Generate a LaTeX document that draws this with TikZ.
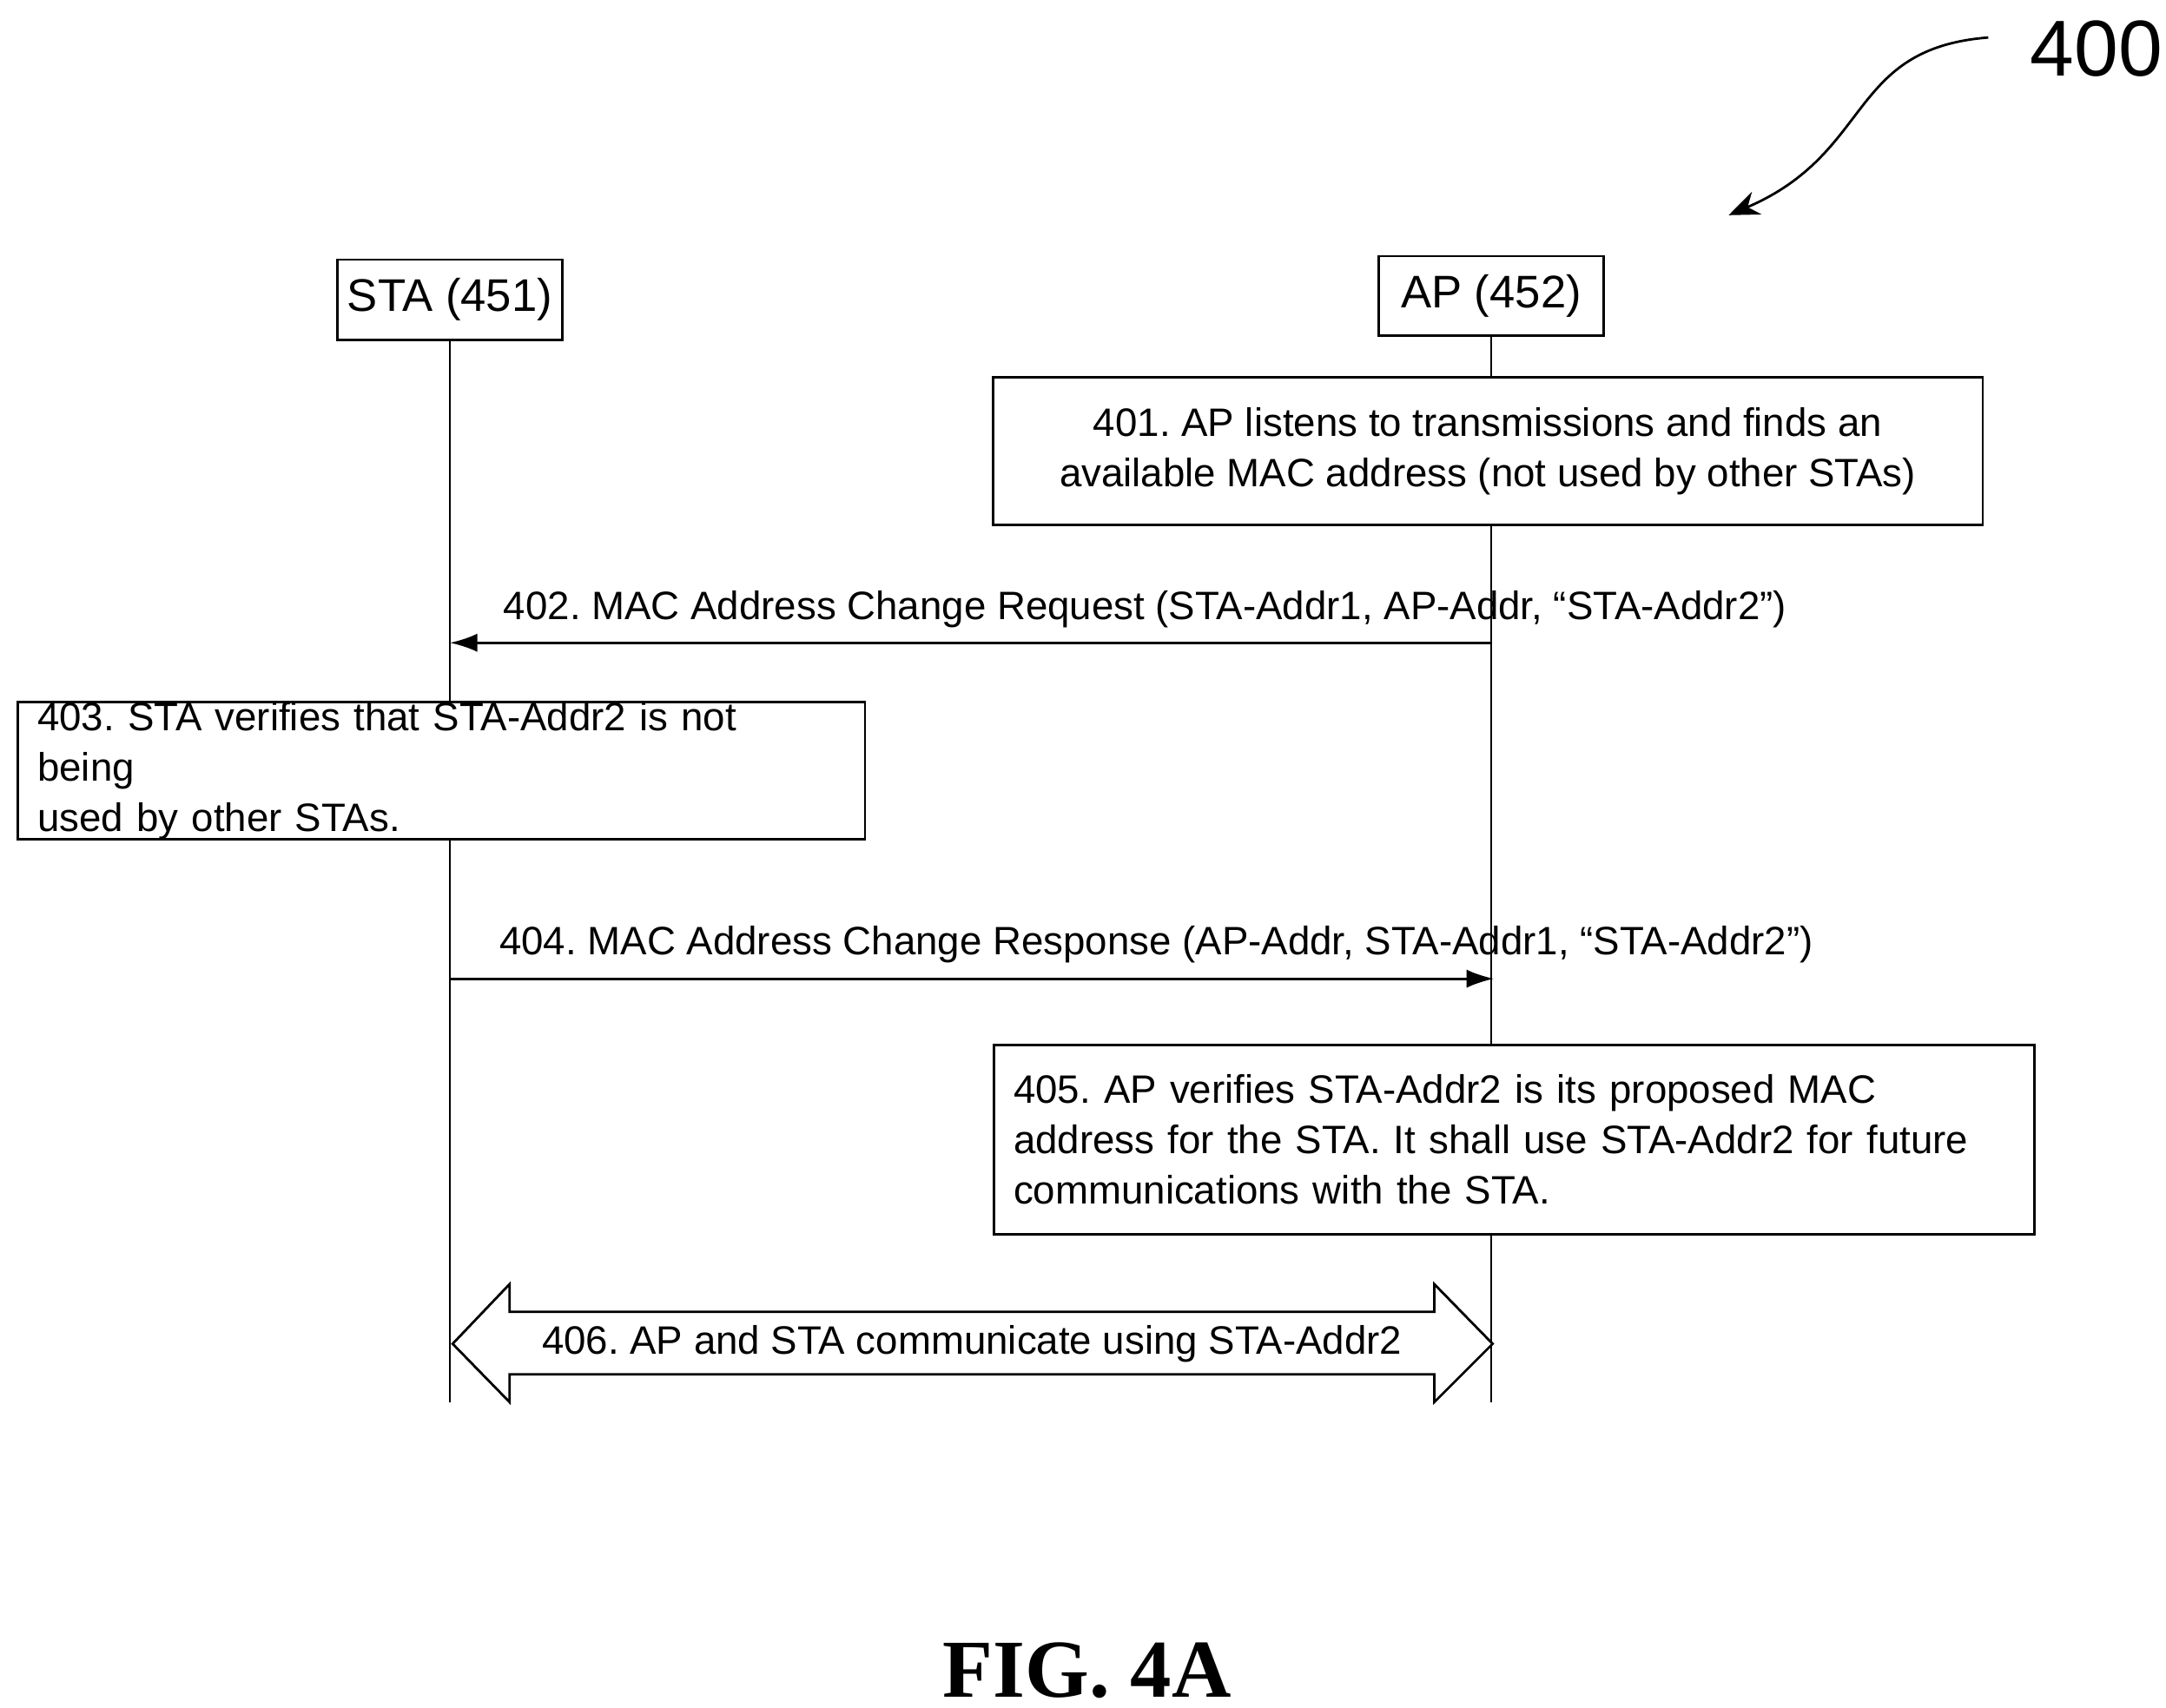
\documentclass[tikz,border=0pt]{standalone}
\usepackage{fontspec}
\setmainfont{Liberation Sans}
\newfontfamily\figfont{Liberation Serif}
\usetikzlibrary{positioning, calc, arrows.meta}
\frenchspacing
\hyphenpenalty=10000

\tikzset{
    entity/.style={draw, thick, inner sep=0pt, font=\fontsize{15}{18}\selectfont},
    stepbox/.style={draw, thick, inner sep=0pt, font=\fontsize{13}{16.5}\selectfont},
    msg/.style={font=\fontsize{13}{16}\selectfont},
    lifeline/.style={thick},
    call/.style={thick, -{Latex[length=9pt,width=6pt]}}
}

\begin{document}
\begin{tikzpicture}[x=0.016cm, y=-0.016cm]
    \useasboundingbox (0,0) rectangle (1560,1230);

    % Reference label
    \node (ref) at (1510,35) {\fontsize{26}{30}\selectfont 400};
    \coordinate (refend) at (1245,155);
    \draw [thick, -{Stealth[length=10pt,width=8pt]}] (1432,27) .. controls (1330,35) and (1350,110) .. (refend);

    % Entities
    \node[entity, minimum width=162*0.016cm, minimum height=58*0.016cm] (sta) at (324,216) {STA (451)};
    \node[entity, minimum width=162*0.016cm, minimum height=57*0.016cm] (ap) at (1074,213) {AP (452)};

    % Lifelines
    \coordinate (staend) at (324,1010);
    \coordinate (apend) at (1074,1010);
    \draw [lifeline] (sta.south) -- (staend);
    \draw [lifeline] (ap.south) -- (apend);

    % Steps
    \node[stepbox, fill=white, minimum width=713*0.016cm, minimum height=106*0.016cm, align=center] (s401) at (1071.5,325)
        {401. AP listens to transmissions and finds an\\available MAC address (not used by other STAs)};

    \coordinate (m402a) at (1074,463);
    \coordinate (m402b) at (324,463);
    \draw [call] (m402a) -- (m402b);
    \node[msg, anchor=base west] (l402) at (355,446) {402. MAC Address Change Request (STA-Addr1, AP-Addr, “STA-Addr2”)};

    \node[stepbox, fill=white, minimum width=610*0.016cm, minimum height=98*0.016cm, text width=582*0.016cm, align=left] (s403) at (318,555)
        {403. STA verifies that STA-Addr2 is not being\\used by other STAs.};

    \coordinate (m404a) at (324,705);
    \coordinate (m404b) at (1076,705);
    \draw [call] (m404a) -- (m404b);
    \node[msg, anchor=base west] (l404) at (352,688) {404. MAC Address Change Response (AP-Addr, STA-Addr1, “STA-Addr2”)};

    \node[stepbox, fill=white, minimum width=749*0.016cm, minimum height=136*0.016cm, text width=721*0.016cm, align=left] (s405) at (1090.5,821)
        {405. AP verifies STA-Addr2 is its proposed MAC\\address for the STA. It shall use STA-Addr2 for future\\communications with the STA.};

    % Two-way exchange
    \draw [thick, fill=white] (326,968) -- (367,925) -- (367,945) -- (1033,945) -- (1033,925) -- (1075,968)
        -- (1033,1010) -- (1033,990) -- (367,990) -- (367,1010) -- cycle;
    \node[msg] (l406) at (700,968) {406. AP and STA communicate using STA-Addr2};

    % Caption
    \node (fig) at (783,1203) {\figfont\bfseries\fontsize{27}{30}\selectfont FIG. 4A};
\end{tikzpicture}
\end{document}
